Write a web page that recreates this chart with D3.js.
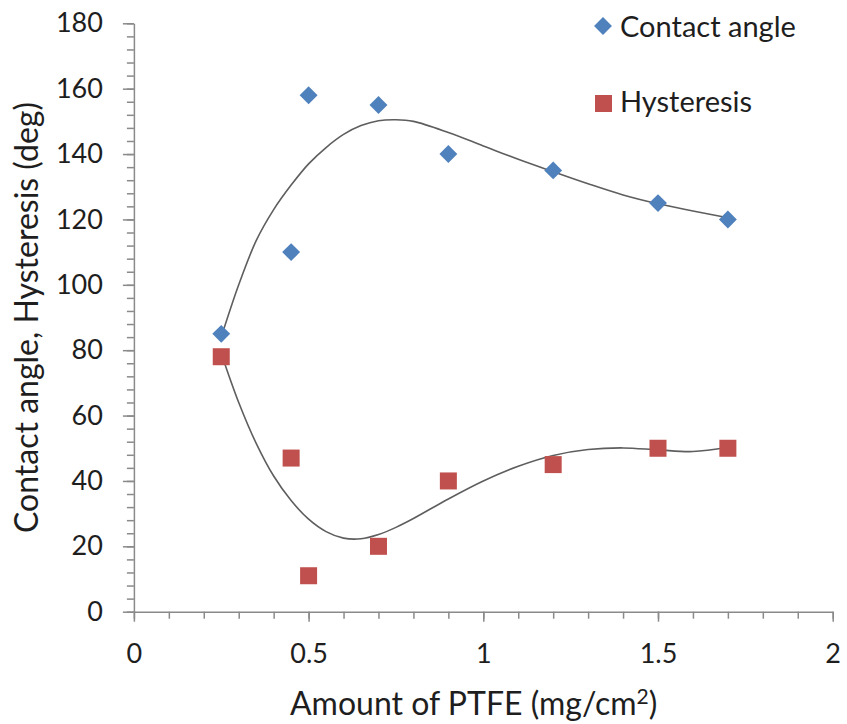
<!DOCTYPE html>
<html>
<head>
<meta charset="utf-8">
<script src="https://cdn.jsdelivr.net/npm/d3@7"></script>
<style>
  html, body { margin: 0; padding: 0; background: #fff; }
  svg { display: block; }
  text { font-family: Lato, "Open Sans", sans-serif; fill: #1e1e1e; }
</style>
</head>
<body>
<svg id="chart" width="847" height="724"></svg>
<script>
// PTFE loading (mg/cm2)
const ptfe = [0.25, 0.45, 0.5, 0.7, 0.9, 1.2, 1.5, 1.7];
// Measured values (deg)
const contactAngle = [85, 110, 158, 155, 140, 135, 125, 120];
const hysteresis   = [78, 47, 11, 20, 40, 45, 50, 50];

// Smoothed trend curves through the measurements
const trendX       = [0.25, 0.3, 0.35, 0.4, 0.45, 0.5, 0.55, 0.6, 0.65, 0.7, 0.75, 0.8, 0.9, 1.0, 1.1, 1.2, 1.3, 1.4, 1.5, 1.6, 1.7];
const contactTrend = [84, 100, 113.5, 123, 130.5, 137, 142, 146, 148.7, 150.2, 150.5, 150, 146.6, 142.5, 138.4, 134.6, 130.9, 127.5, 124.8, 122.6, 120.5];
const hysTrend     = [79, 64, 51.5, 41.5, 34, 28.3, 24.5, 22.5, 22.3, 23.6, 25.8, 28.5, 34.5, 40, 44.5, 47.8, 49.6, 50.1, 49.5, 49, 50.3];

// Axis ticks
const xMajor = [0, 0.5, 1, 1.5, 2];
const yMajor = [0, 20, 40, 60, 80, 100, 120, 140, 160, 180];

const seriesNames = ["Contact angle", "Hysteresis"];
const seriesColors = ["#4f81bd", "#c0504d"];

const svg = d3.select("#chart");

const x = d3.scaleLinear().domain([0, 2]).range([133.9, 832.7]);
const y = d3.scaleLinear().domain([0, 180]).range([611.7, 23.3]);

const axisColor = "#8a8a8a";

// minor ticks
const xMinor = d3.range(0, 2.0001, 0.1).map(v => +v.toFixed(2));
const yMinor = d3.range(0, 180.001, 4);

svg.append("g")
  .attr("transform", `translate(0,${y(0)})`)
  .call(d3.axisBottom(x).tickValues(xMinor).tickSize(7).tickFormat(""))
  .call(g => g.select(".domain").remove())
  .call(g => g.selectAll("line").attr("stroke", axisColor).attr("stroke-width", 1.5));

svg.append("g")
  .attr("transform", `translate(${x(0)},0)`)
  .call(d3.axisLeft(y).tickValues(yMinor).tickSize(7).tickFormat(""))
  .call(g => g.select(".domain").remove())
  .call(g => g.selectAll("line").attr("stroke", axisColor).attr("stroke-width", 1.5));

// major ticks + labels
const xAxis = svg.append("g")
  .attr("transform", `translate(0,${y(0)})`)
  .call(d3.axisBottom(x).tickValues(xMajor).tickSize(10).tickSizeOuter(0).tickPadding(22)
    .tickFormat(d3.format("")));
xAxis.select(".domain").attr("stroke", axisColor).attr("stroke-width", 1.5);
xAxis.selectAll("line").attr("stroke", axisColor).attr("stroke-width", 1.5);
xAxis.selectAll("text").attr("font-size", 27).attr("fill", "#1e1e1e")
  .attr("font-family", "Lato, sans-serif");

const yAxis = svg.append("g")
  .attr("transform", `translate(${x(0)},0)`)
  .call(d3.axisLeft(y).tickValues(yMajor).tickSize(11).tickSizeOuter(0).tickPadding(20)
    .tickFormat(d3.format("")));
yAxis.select(".domain").attr("stroke", axisColor).attr("stroke-width", 1.5);
yAxis.selectAll("line").attr("stroke", axisColor).attr("stroke-width", 1.5);
yAxis.selectAll("text").attr("font-size", 27).attr("fill", "#1e1e1e")
  .attr("font-family", "Lato, sans-serif");

// axis titles
const xt = svg.append("text")
  .attr("x", 290).attr("y", 715)
  .attr("font-size", 32);
xt.append("tspan").text("Amount of PTFE (mg/cm");
xt.append("tspan").attr("font-size", 21).attr("dy", -11).text("2");
xt.append("tspan").attr("dy", 11).text(")");

svg.append("text")
  .attr("transform", `translate(38,${(y(0) + y(180)) / 2}) rotate(-90)`)
  .attr("text-anchor", "middle")
  .attr("font-size", 32)
  .text("Contact angle, Hysteresis (deg)");

// trend curves
const line = d3.line().curve(d3.curveCatmullRom.alpha(0.5))
  .x(d => x(d[0])).y(d => y(d[1]));

[contactTrend, hysTrend].forEach(t => {
  svg.append("path")
    .datum(trendX.map((v, i) => [v, t[i]]))
    .attr("d", line)
    .attr("fill", "none")
    .attr("stroke", "#5e5e5e")
    .attr("stroke-width", 1.6);
});

// markers
const diamond = d3.symbol().type(d3.symbolSquare).size(160);
svg.append("g").selectAll("path")
  .data(ptfe.map((v, i) => [v, contactAngle[i]]))
  .join("path")
  .attr("d", diamond)
  .attr("transform", d => `translate(${x(d[0])},${y(d[1])}) rotate(45)`)
  .attr("fill", seriesColors[0]);

svg.append("g").selectAll("rect")
  .data(ptfe.map((v, i) => [v, hysteresis[i]]))
  .join("rect")
  .attr("x", d => x(d[0]) - 8.5)
  .attr("y", d => y(d[1]) - 8.5)
  .attr("width", 17).attr("height", 17)
  .attr("fill", seriesColors[1]);

// legend
const legend = svg.append("g");
legend.append("path")
  .attr("d", diamond)
  .attr("transform", "translate(603,26) rotate(45)")
  .attr("fill", seriesColors[0]);
legend.append("rect")
  .attr("x", 595).attr("y", 95).attr("width", 17).attr("height", 17)
  .attr("fill", seriesColors[1]);
legend.append("text").attr("x", 620).attr("y", 37).attr("font-size", 29).text(seriesNames[0]);
legend.append("text").attr("x", 620).attr("y", 112).attr("font-size", 29).text(seriesNames[1]);
</script>
</body>
</html>
